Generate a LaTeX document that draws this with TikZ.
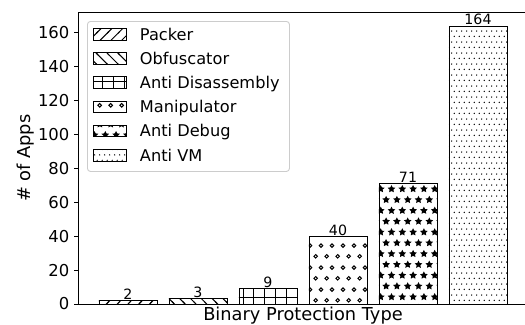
\documentclass[tikz,border=0pt]{standalone}
\usepackage{fontspec}
\setmainfont{DejaVu Sans}
\usetikzlibrary{positioning, patterns.meta}

% one filled star of the '*' hatch
\newcommand\hatchstar[1]{%
  \fill[shift={#1}] (90:4pt) -- (126:2pt) -- (162:4pt) -- (198:2pt)
    -- (234:4pt) -- (270:2pt) -- (306:4pt) -- (342:2pt)
    -- (18:4pt) -- (54:2pt) -- cycle;}

\tikzdeclarepattern{
  name=packerhatch, type=uncolored,
  bounding box={(-1pt,-1pt) and (11.8pt,11.8pt)},
  tile size={(10.8pt,10.8pt)},
  code={\draw[line width=1pt] (-1pt,-1pt) -- (11.8pt,11.8pt);}
}
\tikzdeclarepattern{
  name=obfushatch, type=uncolored,
  bounding box={(-1pt,-1pt) and (11.8pt,11.8pt)},
  tile size={(10.8pt,10.8pt)},
  code={\draw[line width=1pt] (-1pt,11.8pt) -- (11.8pt,-1pt);}
}
\tikzdeclarepattern{
  name=disasmhatch, type=uncolored,
  bounding box={(-1pt,-1pt) and (11.8pt,11.8pt)},
  tile size={(10.8pt,10.8pt)},
  code={
    \draw[line width=1pt] (5.4pt,-1pt) -- (5.4pt,11.8pt);
    \draw[line width=1pt] (-1pt,5.4pt) -- (11.8pt,5.4pt);
  }
}
\tikzdeclarepattern{
  name=manipcircles, type=uncolored,
  bounding box={(0pt,0pt) and (10.8pt,21.6pt)},
  tile size={(10.8pt,21.6pt)},
  code={
    \draw[line width=1pt] (2.7pt,2.7pt) circle[radius=1.8pt];
    \draw[line width=1pt] (8.1pt,13.5pt) circle[radius=1.8pt];
  }
}
\tikzdeclarepattern{
  name=debugstars, type=uncolored,
  bounding box={(-2pt,-2pt) and (12.8pt,23.6pt)},
  tile size={(10.8pt,21.6pt)},
  code={
    \hatchstar{(2.7pt,5.4pt)}
    \hatchstar{(8.1pt,16.2pt)}
  }
}
\tikzdeclarepattern{
  name=vmdots, type=uncolored,
  bounding box={(0pt,0pt) and (5.4pt,10.8pt)},
  tile size={(5.4pt,10.8pt)},
  code={
    \fill (1.35pt,2.7pt) circle[radius=0.75pt];
    \fill (4.05pt,8.1pt) circle[radius=0.75pt];
  }
}

\tikzset{
	axisline/.style={
			draw=black,
			line width=1pt
		},
	appbar/.style={
			draw=black,
			line width=0.9pt
		},
	ticklabel/.style={
			anchor=east,
			inner sep=0pt,
			font=\fontsize{16.4pt}{19pt}\selectfont
		},
	barvalue/.style={
			anchor=base,
			inner sep=0pt,
			yshift=1.2pt,
			font=\fontsize{14.2pt}{17pt}\selectfont
		},
	axislabel/.style={
			inner sep=0pt,
			font=\fontsize{17.8pt}{21pt}\selectfont
		},
	legendframe/.style={
			draw=black!20,
			line width=0.9pt,
			rounded corners=3pt,
			fill=white,
			inner sep=0pt,
			minimum width=202pt,
			minimum height=150pt
		},
	legendpatch/.style={
			rectangle,
			draw=black,
			line width=0.9pt,
			inner sep=0pt,
			minimum width=33pt,
			minimum height=11.5pt
		},
	legendtext/.style={
			inner sep=0pt,
			text height=11.7pt,
			text depth=0pt,
			font=\fontsize{16.2pt}{19pt}\selectfont
		}
}

\begin{document}
\begin{tikzpicture}[x=70pt, y=1.694pt]
\useasboundingbox (-1.8286,-11.81) rectangle (5.6714,179.46);

% bars
\foreach \n/\pat [count=\i from 0] in {2/packerhatch, 3/obfushatch, 9/disasmhatch,
    40/manipcircles, 71/debugstars, 164/vmdots}
{
  \draw[appbar, pattern=\pat] (\i-0.415,0) rectangle (\i+0.415,\n);
  \node[barvalue] (v\i) at (\i,\n) {\n};
}

% axes
\draw[axisline] (-0.707,0) rectangle (5.707,172.2);
\foreach \t in {0,20,...,160}
{
  \draw[axisline] (-0.707,\t) -- ++(-4.5pt,0) coordinate (k\t);
  \node[ticklabel] (y\t) at ([xshift=-4.5pt]k\t) {\t};
}
\node[axislabel, rotate=90, anchor=base] (ylab) at (-1.4,86.1) {\# of Apps};
\node[axislabel, anchor=base] (xlab) at (2.5,-9.74) {Binary Protection Type};

% legend
\node[legendframe, anchor=north west] (legend) at (-0.5857,167.06) {};
\foreach \lab/\pat [count=\i from 0] in {Packer/packerhatch, Obfuscator/obfushatch,
    Anti Disassembly/disasmhatch, Manipulator/manipcircles,
    Anti Debug/debugstars, Anti VM/vmdots}
{
  \node[legendpatch, pattern=\pat] (h\i)
    at ([shift={(23pt,{-13.2pt-24.2pt*\i})}]legend.north west) {};
  \node[legendtext, right=12.8pt of h\i] (t\i) {\lab};
}
\end{tikzpicture}
\end{document}
